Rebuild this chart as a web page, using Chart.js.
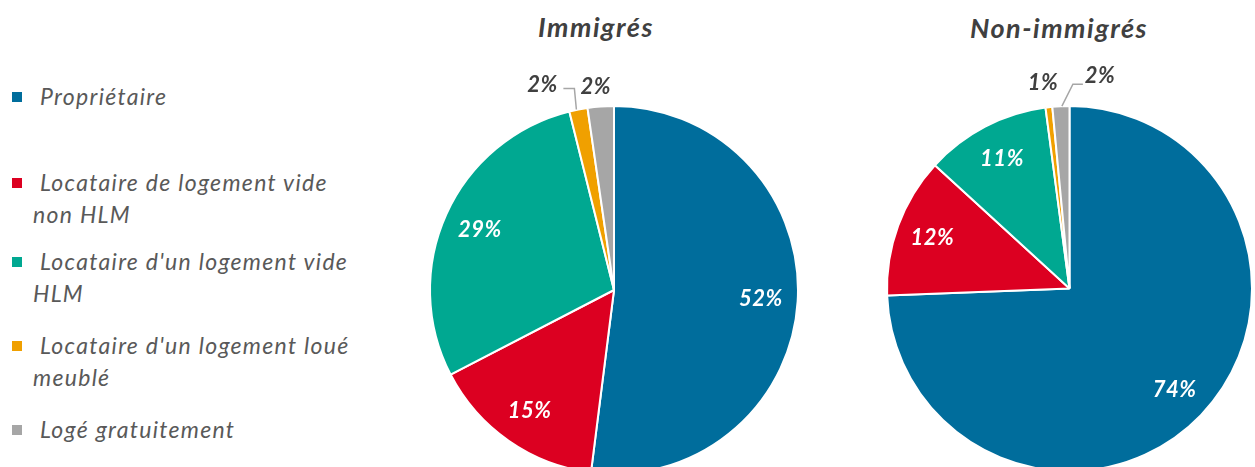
<!DOCTYPE html>
<html>
<head>
<meta charset="utf-8">
<script src="https://cdn.jsdelivr.net/npm/chart.js@4.4.1/dist/chart.umd.min.js"></script>
<style>
html, body { margin: 0; padding: 0; background: #fff; overflow: hidden; width: 1255px; height: 467px; }
.box { position: absolute; top: 0; }
.title { position: absolute; font: italic bold 27px Lato; letter-spacing: 1.5px; color: #404040; transform: translate(-50%, -50%); white-space: nowrap; }
.leg { position: absolute; left: 33px; width: 340px; font: italic 23px Lato; letter-spacing: 1.3px; color: #595959; line-height: 31.5px; }
.leg span.line { display: block; white-space: nowrap; }
.leg span.line:first-of-type { text-indent: 7px; }
.leg i { position: absolute; left: -21px; top: 11px; width: 10px; height: 10px; }
</style>
</head>
<body>
<div class="title" style="left:596px;top:26px">Immigrés</div>
<div class="title" style="left:1059px;top:27px">Non-immigrés</div>
<div id="legend"></div>
<div class="box" style="left:384px;width:460px;height:580px"><canvas id="c1" width="460" height="580"></canvas></div>
<div class="box" style="left:884px;width:371px;height:577px"><canvas id="c2" width="371" height="577"></canvas></div>
<script>
// categories (legend lines) and colours
const categories = [
    ["Propriétaire"],
    ["Locataire de logement vide", "non HLM"],
    ["Locataire d'un logement vide", "HLM"],
    ["Locataire d'un logement loué", "meublé"],
    ["Logé gratuitement"]
];
const colors = ["#006d9c", "#dc0021", "#00a891", "#f0a000", "#a6a6a6"];

// shares in %
const immigres = [52.0, 15.4, 28.7, 1.6, 2.3];
const nonImmigres = [74.4, 12.4, 11.1, 0.6, 1.5];

// legend, first-line centre of each item
const legendTops = [97, 183, 262, 346, 430];
const legend = document.getElementById("legend");
categories.forEach((lines, i) => {
    let div = document.createElement("div");
    div.className = "leg";
    div.style.top = (legendTops[i] - 16) + "px";
    let mark = document.createElement("i");
    mark.style.background = colors[i];
    div.appendChild(mark);
    lines.forEach(t => {
        let s = document.createElement("span");
        s.className = "line";
        s.textContent = t;
        div.appendChild(s);
    });
    legend.appendChild(div);
});

// percent labels drawn on / next to the slices
const sliceLabels = {
    id: "sliceLabels",
    afterDatasetsDraw(chart, args, opts) {
        const ctx = chart.ctx;
        const meta = chart.getDatasetMeta(0);
        const values = chart.data.datasets[0].data;
        ctx.save();
        ctx.font = "italic bold 22px Lato";
        ctx.letterSpacing = "0.5px";
        ctx.textAlign = "center";
        ctx.textBaseline = "middle";
        meta.data.forEach((arc, i) => {
            const p = arc.getProps(["x", "y", "startAngle", "endAngle", "outerRadius"], true);
            const mid = (p.startAngle + p.endAngle) / 2;
            const text = Math.round(values[i]) + "%";
            const out = opts.outside[i];
            if (!out) {
                const r = p.outerRadius * 0.8;
                ctx.fillStyle = "#fff";
                ctx.fillText(text, p.x + Math.cos(mid) * r, p.y + Math.sin(mid) * r);
            } else {
                const ex = p.x + Math.cos(mid) * p.outerRadius;
                const ey = p.y + Math.sin(mid) * p.outerRadius;
                if (out.leader) {
                    ctx.strokeStyle = "#a6a6a6";
                    ctx.lineWidth = 1.5;
                    ctx.beginPath();
                    ctx.moveTo(ex + out.leader[0][0], ey + out.leader[0][1]);
                    out.leader.slice(1).forEach(pt => ctx.lineTo(ex + pt[0], ey + pt[1]));
                    ctx.stroke();
                }
                ctx.fillStyle = "#404040";
                ctx.fillText(text, ex + out.label[0], ey + out.label[1]);
            }
        });
        ctx.restore();
    }
};

function drawPie(id, values, radius, outside) {
    return new Chart(document.getElementById(id), {
        type: "pie",
        plugins: [sliceLabels],
        data: {
            labels: categories.map(l => l.join(" ")),
            datasets: [{
                data: values,
                backgroundColor: colors,
                borderColor: "#fff",
                borderWidth: 2
            }]
        },
        options: {
            responsive: false,
            animation: false,
            radius: radius,
            layout: { padding: 0 },
            events: [],
            plugins: {
                legend: { display: false },
                tooltip: { enabled: false },
                sliceLabels: { outside: outside }
            }
        }
    });
}

drawPie("c1", immigres, 184, {
    3: { label: [-36, -25], leader: [[-2, 0], [-4, -21], [-15, -21]] },
    4: { label: [-5, -20] }
});
drawPie("c2", nonImmigres, 182.5, {
    3: { label: [-6, -24] },
    4: { label: [39, -30], leader: [[1, 0], [12, -22], [22, -22]] }
});
</script>
</body>
</html>
